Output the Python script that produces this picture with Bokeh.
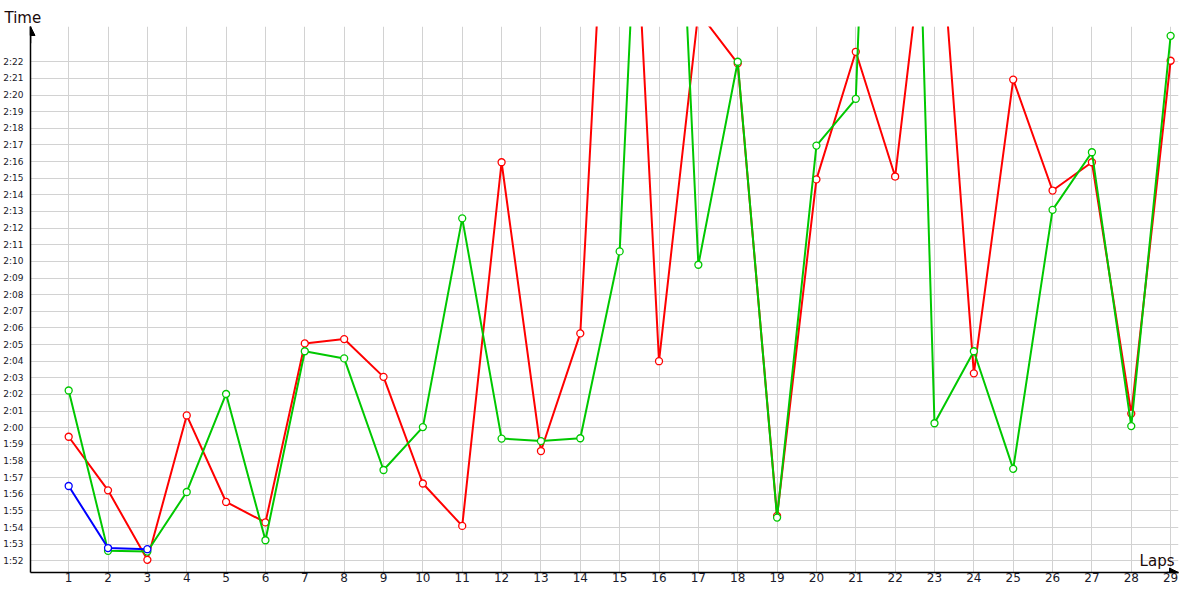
from bokeh.plotting import figure
from bokeh.models import FixedTicker, Range1d, Label, Arrow, NormalHead
from bokeh.embed import file_html
from bokeh.resources import INLINE

# ---- data (lap times in seconds) ----
laps = list(range(1, 30))
red_times = [119.46, 116.24, 112.06, 120.74, 115.54, 114.31, 125.07, 125.33, 123.06, 116.65,
             114.10, 135.96, 118.60, 125.67, 170.0, 124.00, 145.0, 141.90, 114.70, 134.93,
             142.60, 135.10, 155.0, 123.27, 140.93, 134.26, 135.96, 120.85, 142.06]
green_times = [122.24, 112.60, 112.56, 116.14, 122.03, 113.24, 124.60, 124.17, 117.46, 120.04,
               132.59, 119.35, 119.20, 119.37, 130.60, 180.5, 129.80, 142.00, 114.60, 136.96,
               139.77, 200.0, 120.27, 124.60, 117.53, 133.10, 136.56, 120.10, 143.56]
blue_laps = [1, 2, 3]
blue_times = [116.50, 112.77, 112.70]

y_tick_values = list(range(112, 143))
y_tick_labels = ["1:52", "1:53", "1:54", "1:55", "1:56", "1:57", "1:58", "1:59",
                 "2:00", "2:01", "2:02", "2:03", "2:04", "2:05", "2:06", "2:07",
                 "2:08", "2:09", "2:10", "2:11", "2:12", "2:13", "2:14", "2:15",
                 "2:16", "2:17", "2:18", "2:19", "2:20", "2:21", "2:22"]
x_tick_labels = [str(v) for v in laps]

RED = "#ff0000"
GREEN = "#00c800"
BLUE = "#0000ff"

x0, x1 = 0.03, 29.2
y0, y1 = 111.3, 144.12

p = figure(width=1184, height=584, output_backend="svg", toolbar_location=None,
           x_range=Range1d(x0, x1), y_range=Range1d(y0, y1),
           min_border_left=25, min_border_right=6, min_border_top=26, min_border_bottom=10,
           background_fill_color="white", border_fill_color="white")
p.outline_line_color = None

# title "Time"
p.title.text = "Time"
p.title.align = "left"
p.title.offset = -26
p.title.text_font = "DejaVu Sans"
p.title.text_font_size = "15px"
p.title.text_font_style = "normal"
p.title.text_color = "#1a0a0a"
p.title.standoff = 0

# axes
for ax in (p.xaxis[0], p.yaxis[0]):
    ax.axis_line_color = "black"
    ax.axis_line_width = 1.5
    ax.major_tick_line_color = None
    ax.minor_tick_line_color = None
    ax.major_tick_out = 0
    ax.major_tick_in = 0
    ax.minor_tick_out = 0
    ax.minor_tick_in = 0
    ax.axis_label_standoff = 0
    ax.major_label_text_font = "DejaVu Sans"
    ax.major_label_text_color = "#1a1a2a"

p.xaxis.ticker = FixedTicker(ticks=laps)
p.xaxis.major_label_overrides = {v: s for v, s in zip(laps, x_tick_labels)}
p.xaxis.major_label_text_font_size = "12px"
p.xaxis.major_label_standoff = 0

p.yaxis.ticker = FixedTicker(ticks=y_tick_values)
p.yaxis.major_label_overrides = {v: s for v, s in zip(y_tick_values, y_tick_labels)}
p.yaxis.major_label_text_font_size = "9px"
p.yaxis.major_label_standoff = 7

p.xgrid.grid_line_color = "#d2d2d2"
p.ygrid.grid_line_color = "#d2d2d2"
p.xgrid.grid_line_width = 1
p.ygrid.grid_line_width = 1

# series
for xs, ys, col in ((laps, red_times, RED), (laps, green_times, GREEN), (blue_laps, blue_times, BLUE)):
    p.line(xs, ys, line_color=col, line_width=2)
    p.scatter(xs, ys, size=7, marker="circle", fill_color="white", line_color=col, line_width=1.3)

# axis arrows
p.add_layout(Arrow(end=NormalHead(size=9, fill_color="black", line_color="black"),
                   x_start=x0, y_start=y1 - 1, x_end=x0, y_end=y1,
                   line_color="black", line_width=1.5))
p.add_layout(Arrow(end=NormalHead(size=9, fill_color="black", line_color="black"),
                   x_start=x1 - 0.3, y_start=y0, x_end=x1, y_end=y0,
                   line_color="black", line_width=1.5))

p.add_layout(Label(x=x1, y=y0, text="Laps", text_align="right", text_baseline="bottom",
                   x_offset=-4, y_offset=3, text_font="DejaVu Sans", text_font_size="15px",
                   text_color="#1a0a0a"))

open("out.html", "w").write(file_html(p, INLINE))
